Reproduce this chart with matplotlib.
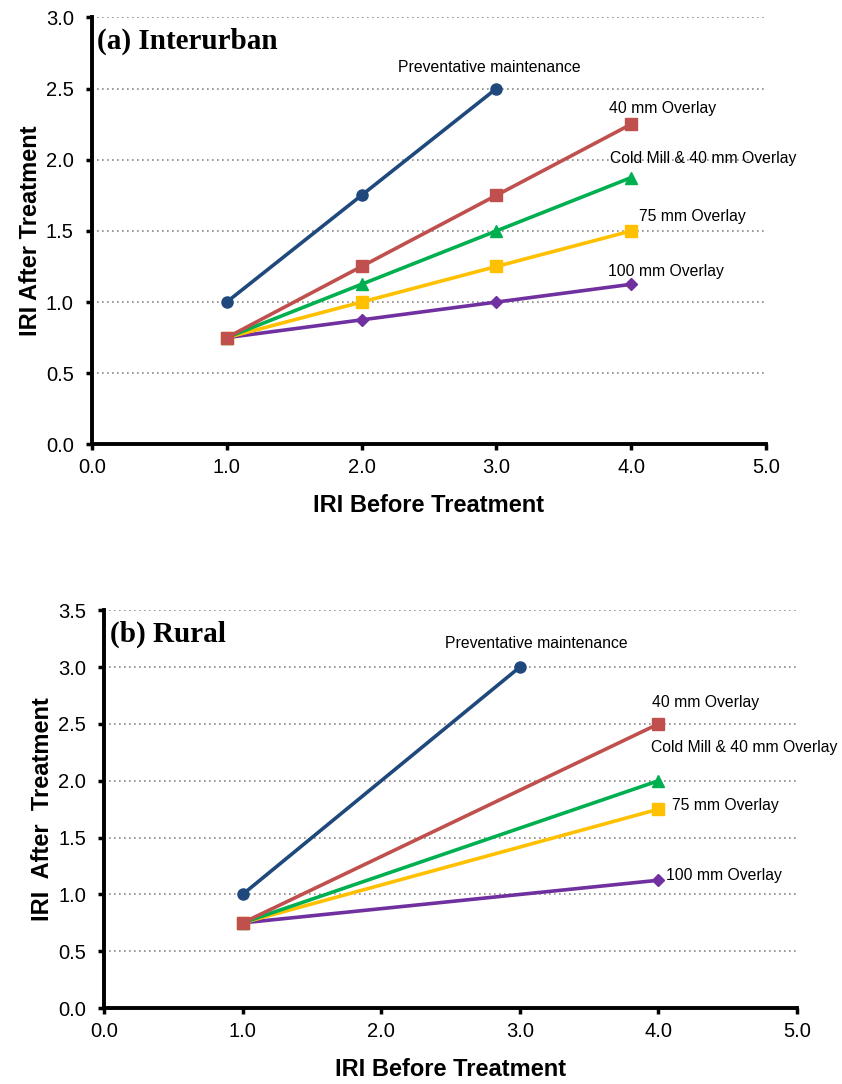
import numpy as np
import matplotlib
matplotlib.use("Agg")
import matplotlib.pyplot as plt

plt.rcParams['font.family'] = ['Liberation Sans', 'DejaVu Sans']

# ---------------- data ----------------
series_names = ["Preventative maintenance", "40 mm Overlay", "Cold Mill & 40 mm Overlay",
                "75 mm Overlay", "100 mm Overlay"]
colors = ["#1F497D", "#C0504D", "#00B050", "#FFC000", "#7030A0"]
markers = ["o", "s", "^", "s", "D"]
marker_sizes = [8, 8, 8.5, 8, 6]

# (a) Interurban
a_x = [[1, 2, 3], [1, 2, 3, 4], [1, 2, 3, 4], [1, 2, 3, 4], [1, 2, 3, 4]]
a_y = [[1.0, 1.75, 2.5],
       [0.75, 1.25, 1.75, 2.25],
       [0.75, 1.125, 1.5, 1.875],
       [0.75, 1.0, 1.25, 1.5],
       [0.75, 0.875, 1.0, 1.125]]
a_label_xy = [(2.95, 2.65), (4.23, 2.36), (4.53, 2.01), (4.45, 1.60), (4.26, 1.215)]

# (b) Rural
b_x = [[1, 3], [1, 4], [1, 4], [1, 4], [1, 4]]
b_y = [[1.0, 3.0],
       [0.75, 2.5],
       [0.75, 2.0],
       [0.75, 1.75],
       [0.75, 1.125]]
b_label_xy = [(3.12, 3.21), (4.34, 2.69), (4.62, 2.29), (4.48, 1.78), (4.47, 1.17)]

# ---------------- figure ----------------
fig = plt.figure(figsize=(8.42, 10.84), dpi=100)
ax1 = fig.add_axes([0.109, 0.590, 0.801, 0.394])
ax2 = fig.add_axes([0.1235, 0.070, 0.823, 0.367])


def style_axes(ax, ymax, ylabel, title):
    ax.set_xlim(0, 5)
    ax.set_ylim(0, ymax)
    ax.set_xticks(np.arange(0, 5.01, 1.0))
    ax.set_yticks(np.arange(0, ymax + 0.01, 0.5))
    ax.set_xticklabels([f"{v:.1f}" for v in np.arange(0, 5.01, 1.0)])
    ax.set_yticklabels([f"{v:.1f}" for v in np.arange(0, ymax + 0.01, 0.5)])
    ax.tick_params(labelsize=14.5, length=4, width=2.5, direction='out')
    ax.tick_params(axis='y', pad=9)
    ax.tick_params(axis='x', pad=6)
    for s in ['top', 'right']:
        ax.spines[s].set_visible(False)
    for s in ['left', 'bottom']:
        ax.spines[s].set_linewidth(2.8)
    ax.yaxis.grid(True, linestyle=(0, (1, 2)), color='#888888', linewidth=1.2)
    ax.set_axisbelow(True)
    ax.set_xlabel("IRI Before Treatment", fontsize=17, fontweight='bold', labelpad=12)
    ax.set_ylabel(ylabel, fontsize=17, fontweight='bold', labelpad=3)
    ax.text(0.008, 0.975, title, transform=ax.transAxes, ha='left', va='top',
            fontsize=21, fontweight='bold', family=['Liberation Serif', 'DejaVu Serif'])


def draw_series(ax, xs, ys, label_xy):
    for i in range(len(series_names)):
        ax.plot(xs[i], ys[i], color=colors[i], marker=markers[i], markersize=marker_sizes[i],
                linewidth=2.6, clip_on=False, zorder=3 + (5 - i))
        lx, ly = label_xy[i]
        ax.text(lx, ly, series_names[i], ha='center', va='center', fontsize=11.3)


draw_series(ax1, a_x, a_y, a_label_xy)
style_axes(ax1, 3.0, "IRI After Treatment", "(a) Interurban")

draw_series(ax2, b_x, b_y, b_label_xy)
style_axes(ax2, 3.5, "IRI  After  Treatment", "(b) Rural")

plt.savefig("out.png", dpi=100)
